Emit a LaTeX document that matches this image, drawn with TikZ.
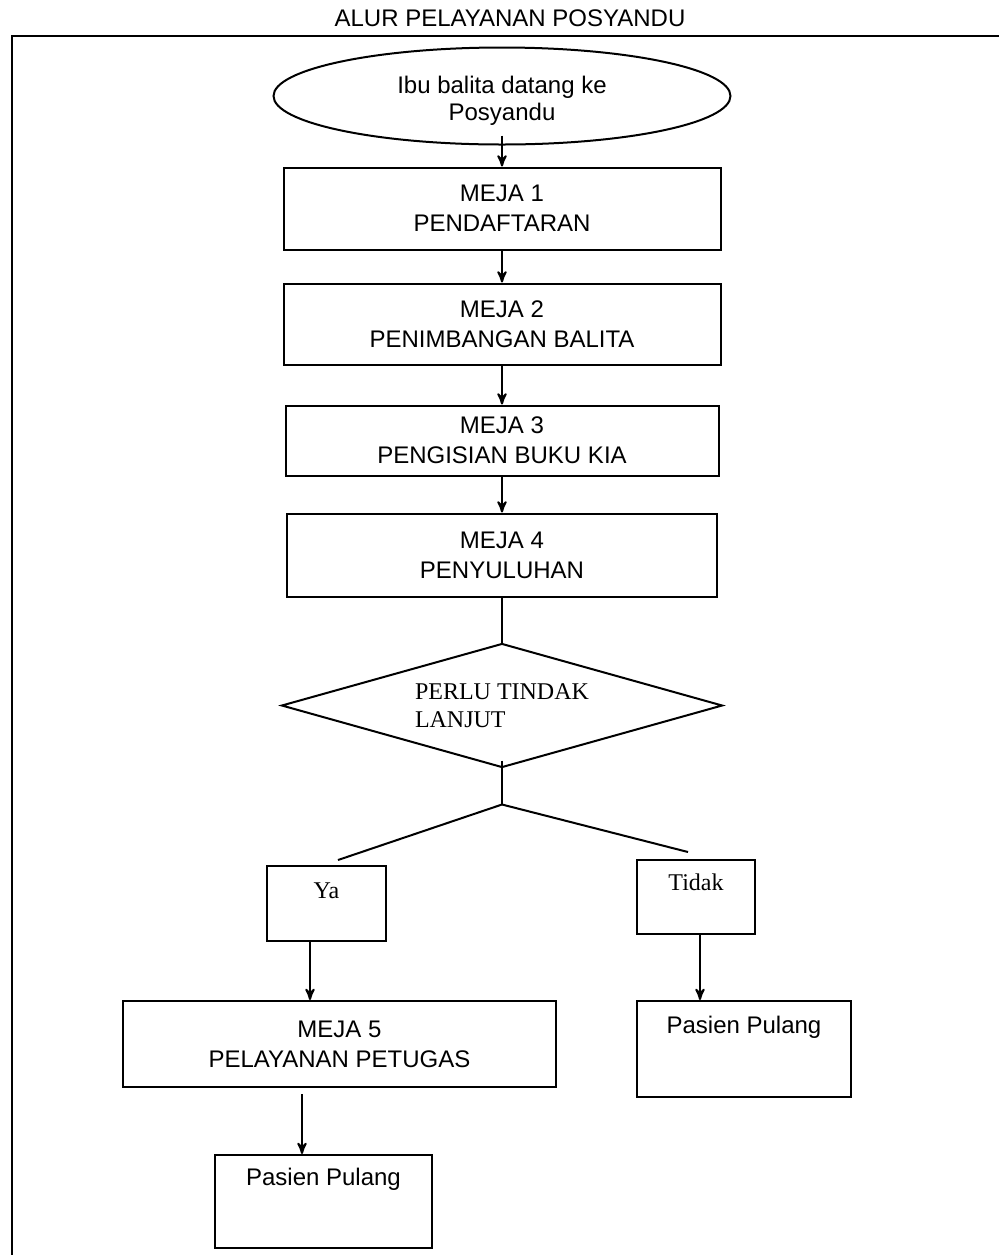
\documentclass[tikz,border=0pt]{standalone}
\usepackage{fontspec}
\setmainfont{Liberation Sans}
\newfontfamily\serifbox{Liberation Serif}
\usepackage{tikz}
\usetikzlibrary{positioning}
\usetikzlibrary{arrows}
\usetikzlibrary{shapes.geometric}

\begin{document}
\begin{tikzpicture}[>=stealth',
        x=0.5pt, y=-0.5pt,
        line width=1pt,
        font=\fontsize{12}{15}\selectfont,
        start/.style={
        draw=black,
        ellipse,
        minimum width=228.5pt,
        minimum height=48.5pt,
        inner sep=0pt,
        align=center,
        font=\fontsize{12}{13.5}\selectfont},
        meja/.style={
        draw=black,
        rectangle,
        minimum width=218.5pt,
        inner sep=0pt,
        align=center},
        decision/.style={
        draw=black,
        diamond,
        aspect=3.5,
        minimum width=220.5pt,
        minimum height=62pt,
        inner sep=0pt,
        align=left,
        font=\serifbox\fontsize{12}{14}\selectfont},
        answer/.style={
        draw=black,
        rectangle,
        inner sep=0pt,
        align=center,
        font=\serifbox\fontsize{12}{15}\selectfont},
        exitbox/.style={
        draw=black,
        rectangle,
        inner sep=0pt,
        align=center}]

        \useasboundingbox (0,0) rectangle (999,1255);
        \draw (12,1255) -- (12,36) -- (999,36); % frame
        \node (title) at (510,18) {ALUR PELAYANAN POSYANDU};

        \node[start, text height=27pt] (S) at (502,96) {Ibu balita datang ke\\Posyandu};
        \node[meja, minimum height=41pt] (M1) [below=10.5pt of S] {MEJA 1\\PENDAFTARAN};
        \node[meja, minimum height=40.5pt] (M2) [below=16pt of M1] {MEJA 2\\PENIMBANGAN BALITA};
        \node[meja, minimum height=35pt, minimum width=216.5pt] (M3) [below=19.5pt of M2] {MEJA 3\\PENGISIAN BUKU KIA};
        \node[meja, minimum height=41.5pt, minimum width=215pt] (M4) [below=18pt of M3] {MEJA 4\\PENYULUHAN};
        \node[decision] (D) [below=22.5pt of M4] {PERLU TINDAK\\LANJUT};

        \coordinate[below=18pt of D.south] (J);
        \coordinate (L) at (338,860);
        \coordinate (R) at (688,852);

        \node[answer, minimum width=59.5pt, text height=16pt, text depth=21.5pt] (Y) at (326.5,903.5) {Ya};
        \node[answer, minimum width=59pt, text height=15pt, text depth=22pt] (T) at (696,897) {Tidak};
        \node[meja, minimum width=216.5pt, minimum height=43pt] (M5) at (339.5,1044) {MEJA 5\\PELAYANAN PETUGAS};
        \node[exitbox, minimum width=107pt, text height=16pt, text depth=32pt] (P1) at (744,1049) {Pasien Pulang};
        \node[exitbox, minimum width=108.5pt, text height=15pt, text depth=31.5pt] (P2) at (323.5,1201.5) {Pasien Pulang};

        \draw[->] ([yshift=5pt]S.south) -- (M1);
        \draw[->] (M1) -- (M2);
        \draw[->] (M2) -- (M3);
        \draw[->] (M3) -- (M4);
        \draw (M4) -- (D);
        \draw ([yshift=4pt]D.south) -- (J);
        \draw (J) -- (L);
        \draw (J) -- (R);
        \draw[->] ([xshift=-8.25pt]Y.south) -- ([xshift=-8.25pt]Y.south |- M5.north);
        \draw[->] ([xshift=2pt]T.south) -- ([xshift=2pt]T.south |- P1.north);
        \draw[->] ([xshift=-18.75pt,yshift=-3pt]M5.south) -- ([xshift=-18.75pt]M5.south |- P2.north);
\end{tikzpicture}
\end{document}
